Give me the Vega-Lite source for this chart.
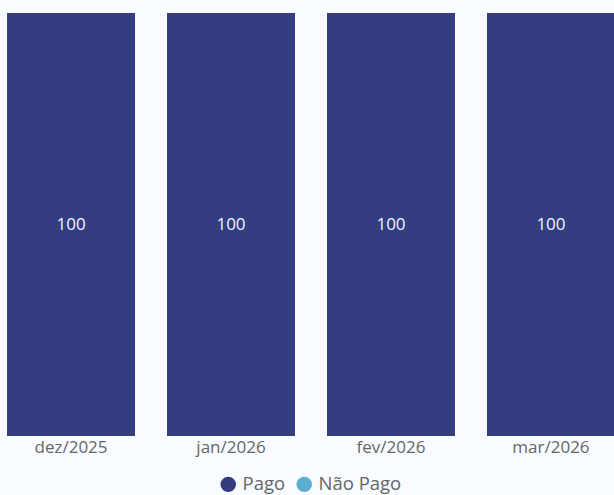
{
  "$schema": "https://vega.github.io/schema/vega-lite/v6.json",
  "autosize": "none",
  "width": 622,
  "height": 423,
  "padding": {"top": 13, "left": 0, "right": 0, "bottom": 59},
  "background": "#f8fbff",
  "config": {
    "view": {"stroke": null},
    "font": "Open Sans"
  },
  "data": {
    "values": [
      {"mes": "dez/2025", "status": "Pago", "valor": 100},
      {"mes": "dez/2025", "status": "Não Pago", "valor": 0},
      {"mes": "jan/2026", "status": "Pago", "valor": 100},
      {"mes": "jan/2026", "status": "Não Pago", "valor": 0},
      {"mes": "fev/2026", "status": "Pago", "valor": 100},
      {"mes": "fev/2026", "status": "Não Pago", "valor": 0},
      {"mes": "mar/2026", "status": "Pago", "valor": 100},
      {"mes": "mar/2026", "status": "Não Pago", "valor": 0}
    ]
  },
  "encoding": {
    "x": {
      "field": "mes", "type": "nominal", "sort": null,
      "scale": {"paddingInner": 0.2, "paddingOuter": 0.044},
      "axis": {"title": null, "labelAngle": 0, "labelFontSize": 17, "labelColor": "#666666", "ticks": false, "domain": false, "labelPadding": 3, "labelFont": "Open Sans"}
    },
    "y": {
      "field": "valor", "type": "quantitative", "stack": "zero",
      "scale": {"domain": [0, 100], "nice": false},
      "axis": null
    }
  },
  "layer": [
    {
      "mark": {"type": "bar"},
      "encoding": {
        "color": {
          "field": "status", "type": "nominal",
          "scale": {"domain": ["Pago", "Não Pago"], "range": ["#333d80", "#5aaed0"]},
          "legend": {
            "title": null, "orient": "none", "legendX": 219, "legendY": 462, "direction": "horizontal",
            "symbolType": "circle", "symbolSize": 240, "labelFontSize": 18.5,
            "labelColor": "#666666", "columnPadding": 9, "symbolOffset": 0,
            "labelOffset": 5, "labelFont": "Open Sans"
          }
        },
        "order": {"field": "status", "sort": "descending"}
      }
    },
    {
      "transform": [{"filter": "datum.valor > 0"}],
      "mark": {"type": "text", "color": "#f4f4fa", "fontSize": 17, "baseline": "middle"},
      "encoding": {
        "y": {"field": "valor", "type": "quantitative", "stack": "zero", "bandPosition": 0.5},
        "text": {"field": "valor", "type": "quantitative"}
      }
    }
  ]
}
